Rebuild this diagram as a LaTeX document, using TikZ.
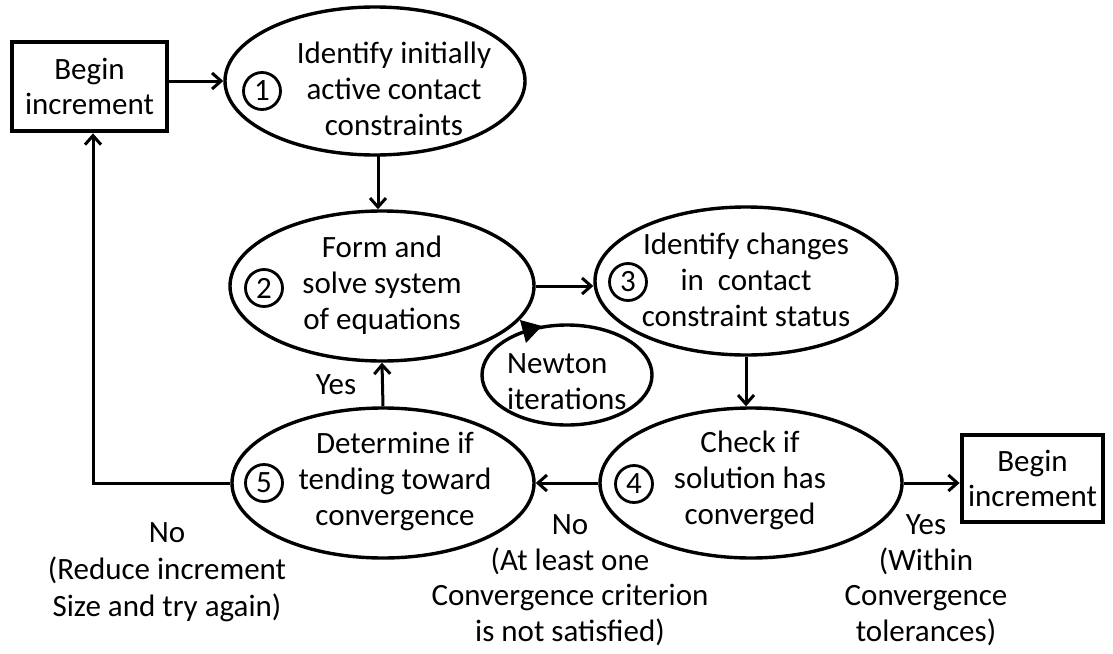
\documentclass[tikz,border=0pt]{standalone}
\usepackage{fontspec}
\setmainfont{Carlito}
\usetikzlibrary{arrows.meta,calc,shapes.geometric}
\begin{document}
\begin{tikzpicture}[x=1pt,y=-1pt,
  txt/.style={align=center,inner sep=0pt,font=\fontsize{31}{36}\selectfont},
  ell/.style={draw,ellipse,line width=3.4pt,inner sep=0pt},
  numc/.style={draw,circle,line width=2.8pt,minimum size=37pt,inner sep=0pt,font=\fontsize{31}{36}\selectfont},
  bx/.style={draw,rectangle,line width=4.8pt,inner sep=0pt,align=center,font=\fontsize{31}{35}\selectfont},
  arr/.style={line width=3pt,-{Straight Barb[length=9pt,width=16pt]}}]
\useasboundingbox (0,0) rectangle (1113,653);
\fill[white] (0,0) rectangle (1113,653);

% boxes
\node[bx,minimum width=155pt,minimum height=89pt] (box1) at (89.5,86.5) {Begin\\increment};
\node[bx,minimum width=141pt,minimum height=87pt] (box2) at (1032.5,478.5) {Begin\\increment};

% ellipses
\node[ell,minimum width=300pt,minimum height=148pt] (e1) at (375,81) {};
\node[ell,minimum width=304pt,minimum height=150pt] (e2) at (382,286) {};
\node[ell,minimum width=302pt,minimum height=148pt] (e3) at (746,281) {};
\node[ell,minimum width=302pt,minimum height=150pt] (e4) at (751,483) {};
\node[ell,minimum width=302pt,minimum height=150pt] (e5) at (383,483) {};
\node[ell,minimum width=170pt,minimum height=100pt] (newton) at (567,375) {};

% texts
\node[txt] (t1) at (394,89) {Identify initially\\active contact\\constraints};
\node[txt] (t2) at (382,285) {Form and\\solve system\\of equations};
\node[txt] (t3) at (746,280) {Identify changes\\in~ contact\\constraint status};
\node[txt] (t4) at (750,480) {Check if\\solution has\\converged};
\node[txt] (t5) at (395,481) {Determine if\\tending toward\\convergence};
\node[txt,align=left,anchor=west] (tn) at (507,382) {Newton\\iterations};

% numbers
\node[numc] (c1) at (262,91) {1};
\node[numc] (c2) at (264,288) {2};
\node[numc] (c3) at (628,282) {3};
\node[numc] (c4) at (634,484) {4};
\node[numc] (c5) at (264,483) {5};

% labels
\node[txt] (yes1) at (336,385) {Yes};
\node[txt,font=\fontsize{31}{37}\selectfont] (no1) at (167,572) {No\\(Reduce increment\\Size and try again)};
\node[txt,font=\fontsize{31}{35.5}\selectfont] (no2) at (570,580) {No\\(At least one\\Convergence criterion\\is not satisfied)};
\node[txt,font=\fontsize{31}{35.5}\selectfont] (yes2) at (926,580) {Yes\\(Within\\Convergence\\tolerances)};

% connectors
\draw[arr] (box1.east |- e1.west) -- (e1.west);
\coordinate (d1) at (378,155);
\draw[arr] (d1) -- (d1 |- e2.north);
\draw[arr] (e2.east) -- (e2.east -| e3.west);
\draw[arr] (e3.south) -- (e3.south |- e4.north);
\draw[arr] (e4.west) -- (e5.east);
\draw[arr] (e4.east) -- (e4.east -| box2.west);
\draw[arr] (e5.north) -- (e2.south);
\coordinate (lc) at (93,483);
\draw[arr] (e5.west) -- (lc) -- (lc |- box1.south);

% Newton iteration arrow head
\coordinate (ntip) at (520,320);
\fill[black] (ntip) -- ++(22,6) -- ++(-16,17) -- cycle;
\end{tikzpicture}
\end{document}
